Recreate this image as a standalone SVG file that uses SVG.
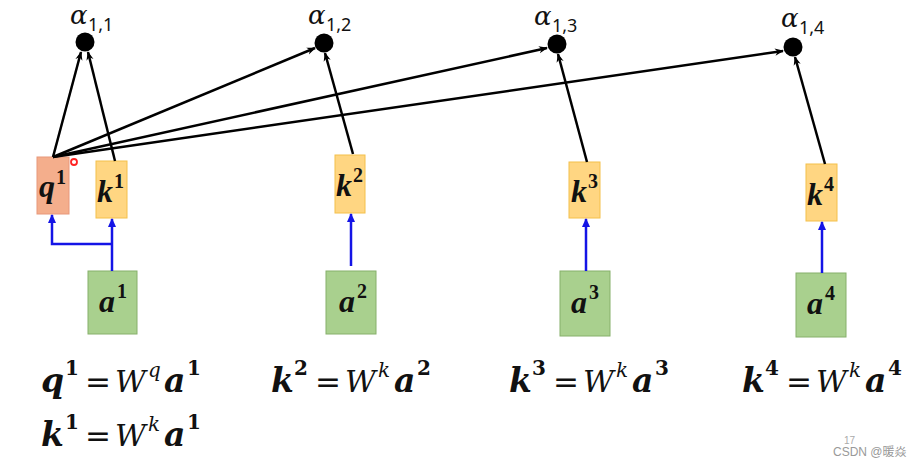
<svg xmlns="http://www.w3.org/2000/svg" width="917" height="463" viewBox="0 0 917 463">
<defs>
<marker id="ah" viewBox="0 0 10 10" refX="9" refY="5" markerWidth="9" markerHeight="9" markerUnits="userSpaceOnUse" orient="auto">
<path d="M0,1 L10,5 L0,9 L3,5 Z" fill="#000"/>
</marker>
<marker id="bh" viewBox="0 0 10 10" refX="9" refY="5" markerWidth="9" markerHeight="9" markerUnits="userSpaceOnUse" orient="auto">
<path d="M0,0.5 L10,5 L0,9.5 Z" fill="#1414e6"/>
</marker>
<style>
.q{fill:#f4ae8c;stroke:#e8977a;stroke-width:1}
.k{fill:#ffd682;stroke:#f4c04a;stroke-width:1}
.a{fill:#a9d08e;stroke:#86b06a;stroke-width:1}
.dot{fill:#000}
.bl{stroke:#1414e6;stroke-width:2.5;fill:none;marker-end:url(#bh)}
.ln{stroke:#000;stroke-width:2.5;fill:none;marker-end:url(#ah)}
.v{font-family:"DejaVu Serif","Liberation Serif",serif;font-weight:bold;font-style:italic;fill:#111}
.n{font-family:"DejaVu Serif","Liberation Serif",serif;font-weight:bold;fill:#111}
.w{font-family:"DejaVu Serif","Liberation Serif",serif;font-style:italic;fill:#111}
.eq{font-family:"DejaVu Sans","Liberation Sans",sans-serif;fill:#111}
.al{font-family:"DejaVu Serif","Liberation Serif",serif;font-style:italic;font-size:26px;fill:#111}
.sub{font-family:"Noto Sans","Liberation Sans",sans-serif;font-size:18px;fill:#111}
.bv{font-family:"Liberation Serif",serif;font-weight:bold;font-style:italic;font-size:32px;fill:#111}
.bn{font-family:"Liberation Serif",serif;font-weight:bold;font-size:20px;fill:#111}
.e{font-size:33px}
.es{font-size:20px}
</style>
</defs>
<rect width="917" height="463" fill="#fff"/>

<g id="alpha11"><circle class="dot" cx="85" cy="42" r="9.5"/><text class="al" x="70" y="24">α</text><text class="sub" x="88" y="31">1,1</text></g>
<g id="alpha12"><circle class="dot" cx="324" cy="43" r="9.5"/><text class="al" x="308" y="24">α</text><text class="sub" x="326" y="31">1,2</text></g>
<g id="alpha13"><circle class="dot" cx="557" cy="44" r="9.5"/><text class="al" x="534" y="25">α</text><text class="sub" x="552" y="32">1,3</text></g>
<g id="alpha14"><circle class="dot" cx="793" cy="47" r="9.5"/><text class="al" x="781" y="27">α</text><text class="sub" x="799" y="34">1,4</text></g>

<g id="q1"><rect class="q" x="37" y="157" width="32" height="57"/><text class="bv" x="39" y="197">q</text><text class="bn" x="56" y="184">1</text></g>
<g id="k1"><rect class="k" x="96" y="161" width="31" height="57"/><text class="bv" x="97" y="202">k</text><text class="bn" x="114" y="188">1</text></g>
<g id="k2"><rect class="k" x="335" y="155" width="30" height="58"/><text class="bv" x="336" y="196">k</text><text class="bn" x="353" y="182">2</text></g>
<g id="k3"><rect class="k" x="569" y="162" width="31" height="56"/><text class="bv" x="571" y="202">k</text><text class="bn" x="588" y="188">3</text></g>
<g id="k4"><rect class="k" x="806" y="164" width="31" height="57"/><text class="bv" x="807" y="205">k</text><text class="bn" x="824" y="191">4</text></g>

<g id="a1"><rect class="a" x="88" y="271" width="49" height="63"/><text class="bv" x="99" y="312">a</text><text class="bn" x="117" y="298">1</text></g>
<g id="a2"><rect class="a" x="326" y="271" width="50" height="63"/><text class="bv" x="339" y="312">a</text><text class="bn" x="357" y="298">2</text></g>
<g id="a3"><rect class="a" x="560" y="271" width="50" height="65"/><text class="bv" x="571" y="313">a</text><text class="bn" x="589" y="299">3</text></g>
<g id="a4"><rect class="a" x="796" y="273" width="50" height="64"/><text class="bv" x="807" y="314">a</text><text class="bn" x="825" y="300">4</text></g>

<g id="connectors">
<line class="ln" x1="53" y1="157" x2="81" y2="52"/>
<line class="ln" x1="115" y1="161" x2="88" y2="52"/>
<line class="ln" x1="53" y1="157" x2="315" y2="48"/>
<line class="ln" x1="53" y1="157" x2="547" y2="48"/>
<line class="ln" x1="53" y1="157" x2="783" y2="51"/>
<line class="ln" x1="353" y1="154" x2="325" y2="53"/>
<line class="ln" x1="587" y1="162" x2="558" y2="54"/>
<line class="ln" x1="825" y1="164" x2="795" y2="57"/>
<line class="bl" x1="112" y1="271" x2="112" y2="219"/>
<polyline class="bl" points="112,244 52,244 52,215"/>
<line class="bl" x1="351" y1="266" x2="351" y2="214"/>
<line class="bl" x1="586" y1="271" x2="586" y2="219"/>
<line class="bl" x1="822" y1="273" x2="822" y2="222"/>
</g>

<circle cx="74" cy="162" r="3" fill="none" stroke="#f22" stroke-width="1.8"/>

<g id="eq1">
<text class="v e" x="41" y="392">q</text><text class="n es" x="65" y="375">1</text>
<text class="eq" x="85" y="392" font-size="31">=</text>
<text class="w" x="115" y="392" font-size="30">W</text><text class="w es" x="148" y="377">q</text>
<text class="v e" x="164" y="392">a</text><text class="n es" x="187" y="375">1</text>
</g>
<g id="eq1b">
<text class="v e" x="41" y="446">k</text><text class="n es" x="65" y="429">1</text>
<text class="eq" x="85" y="446" font-size="31">=</text>
<text class="w" x="115" y="446" font-size="30">W</text><text class="w es" x="148" y="431">k</text>
<text class="v e" x="164" y="446">a</text><text class="n es" x="187" y="429">1</text>
</g>
<g id="eq2">
<text class="v e" x="271" y="392">k</text><text class="n es" x="294" y="375">2</text>
<text class="eq" x="315" y="392" font-size="31">=</text>
<text class="w" x="345" y="392" font-size="30">W</text><text class="w es" x="378" y="377">k</text>
<text class="v e" x="394" y="392">a</text><text class="n es" x="417" y="375">2</text>
</g>
<g id="eq3">
<text class="v e" x="509" y="392">k</text><text class="n es" x="532" y="375">3</text>
<text class="eq" x="553" y="392" font-size="31">=</text>
<text class="w" x="583" y="392" font-size="30">W</text><text class="w es" x="616" y="377">k</text>
<text class="v e" x="632" y="392">a</text><text class="n es" x="655" y="375">3</text>
</g>
<g id="eq4">
<text class="v e" x="742" y="392">k</text><text class="n es" x="765" y="375">4</text>
<text class="eq" x="786" y="392" font-size="31">=</text>
<text class="w" x="816" y="392" font-size="30">W</text><text class="w es" x="849" y="377">k</text>
<text class="v e" x="865" y="392">a</text><text class="n es" x="888" y="375">4</text>
</g>

<text x="844" y="444" font-family="Liberation Sans,sans-serif" font-size="10" fill="#aaa">17</text>
<text x="833" y="456" font-family="Liberation Sans,'Noto Sans CJK SC',sans-serif" font-size="12" fill="#999">CSDN @暖焱</text>
</svg>
